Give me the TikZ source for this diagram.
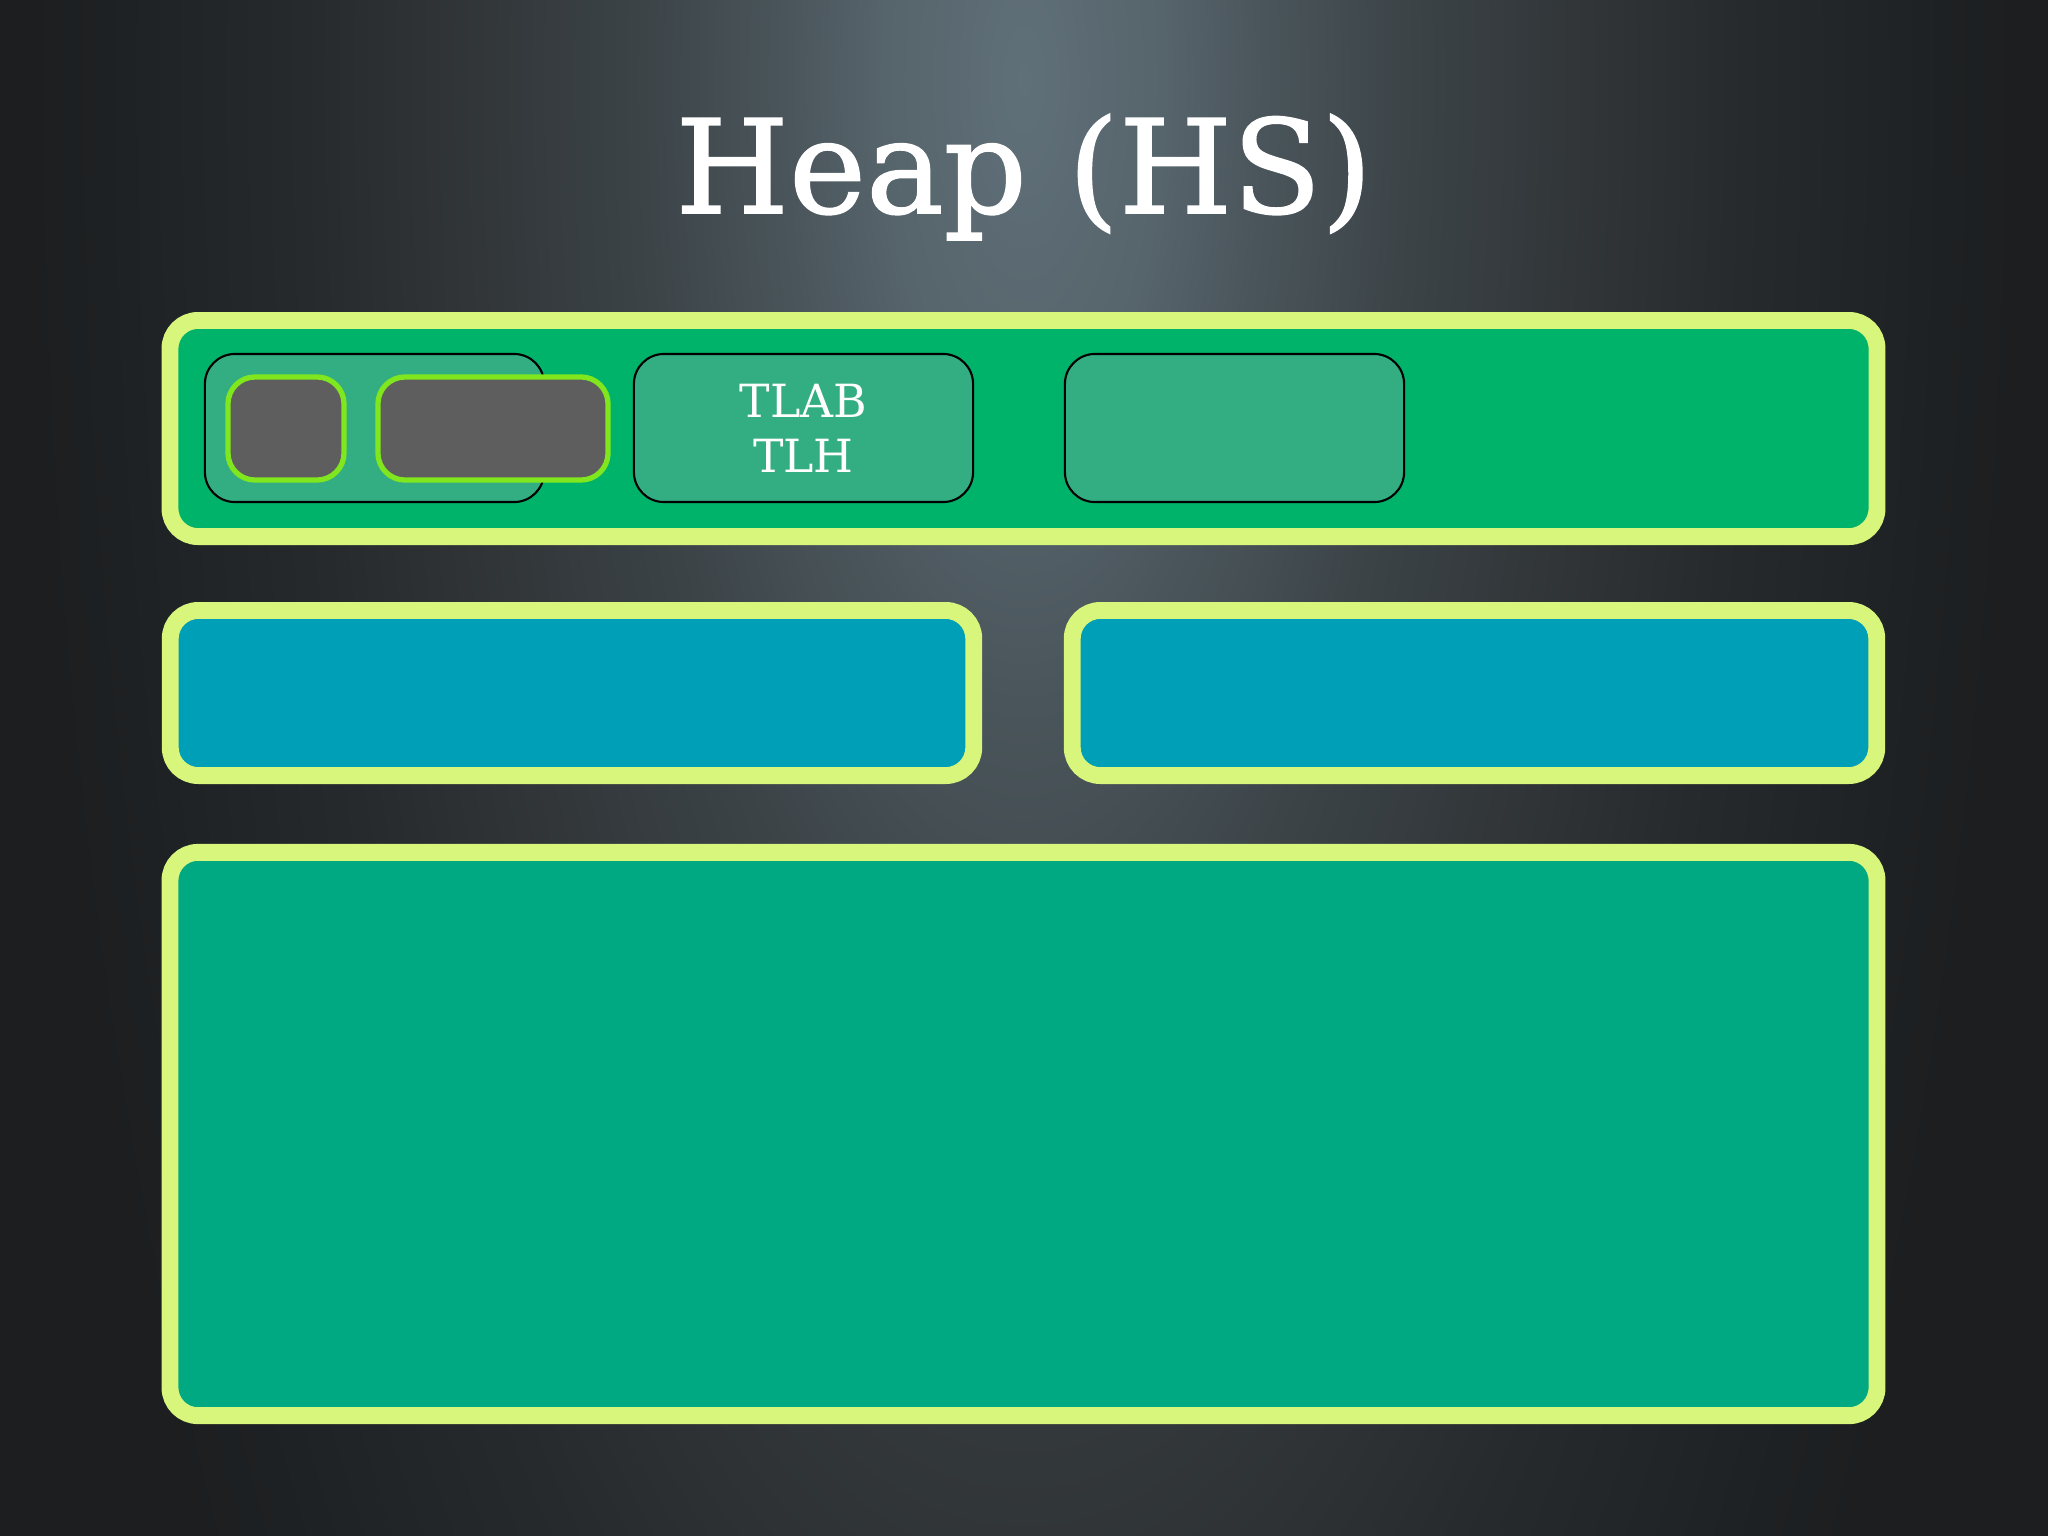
\documentclass[tikz,border=0pt]{standalone}
\usepackage{fontspec}
\setmainfont{DejaVu Serif}
\newfontfamily\titlefont[FakeBold=1.2]{DejaVu Serif}

\definecolor{rim}{HTML}{D8F57C}
\definecolor{edengreen}{HTML}{00B36A}
\definecolor{tlabgreen}{HTML}{33AE82}
\definecolor{objgray}{HTML}{5E5E5E}
\definecolor{objrim}{HTML}{80E61E}
\definecolor{survblue}{HTML}{009FB8}
\definecolor{oldgreen}{HTML}{00A982}
\definecolor{bga}{HTML}{607079}
\definecolor{bgb}{HTML}{56646B}
\definecolor{bgc}{HTML}{4A555B}
\definecolor{bgd}{HTML}{3C4448}
\definecolor{bge}{HTML}{33383B}
\definecolor{bgf}{HTML}{272A2D}
\definecolor{bgg}{HTML}{1E2123}
\definecolor{bgh}{HTML}{1C1E20}

\pgfdeclareradialshading{glow}{\pgfpoint{0bp}{0bp}}{color(0bp)=(bga); color(3.5bp)=(bgb); color(6bp)=(bgc); color(9.5bp)=(bgd); color(13bp)=(bge); color(18bp)=(bgf); color(23bp)=(bgg); color(25bp)=(bgh); color(50bp)=(bgh)}

\begin{document}
\begin{tikzpicture}[x=0.01cm,y=-0.01cm,
  space/.style={draw=rim,line width=4.8pt,rounded corners=0.28cm,inner sep=0pt},
  tlab/.style={draw=black,line width=0.6pt,fill=tlabgreen,rounded corners=0.3cm,inner sep=0pt,minimum width=3.39cm,minimum height=1.48cm},
  obj/.style={draw=objrim,line width=1.5pt,fill=objgray,rounded corners=0.27cm,inner sep=0pt,minimum height=1.03cm}]
\useasboundingbox (0,0) rectangle (2048,1536);
\fill [bgh] (0,0) rectangle (2048,1536);
\begin{scope}
\clip (0,0) rectangle (2048,1536);
\shade [shading=glow] (1024,80) ellipse [x radius=10cm, y radius=26cm];
\end{scope}
\node [text=white,font=\titlefont\fontsize{37}{40}\selectfont,anchor=base] (title) at (1024,213) {Heap (HS)};
% eden
\node [space,fill=edengreen,minimum width=17.06cm,minimum height=2.16cm] (eden) at (1023.5,428.5) {};
\node [tlab] (tlabA) at (374.5,428) {};
\node [obj,minimum width=1.16cm] (objA) at (286,428.5) {};
\node [obj,minimum width=2.30cm] (objB) at (493,428.5) {};
\node [tlab,align=center,text=white,font=\fontsize{13}{15.6}\selectfont] (tlabB) at (803.5,428) {TLAB\\TLH};
\node [tlab] (tlabC) at (1234.5,428) {};
% survivors
\node [space,fill=survblue,minimum width=8.03cm,minimum height=1.65cm] (from) at (572,693) {};
\node [space,fill=survblue,minimum width=8.04cm,minimum height=1.65cm] (to) at (1474.5,693) {};
% old
\node [space,fill=oldgreen,minimum width=17.06cm,minimum height=5.63cm] (old) at (1023.5,1134) {};
\end{tikzpicture}
\end{document}
